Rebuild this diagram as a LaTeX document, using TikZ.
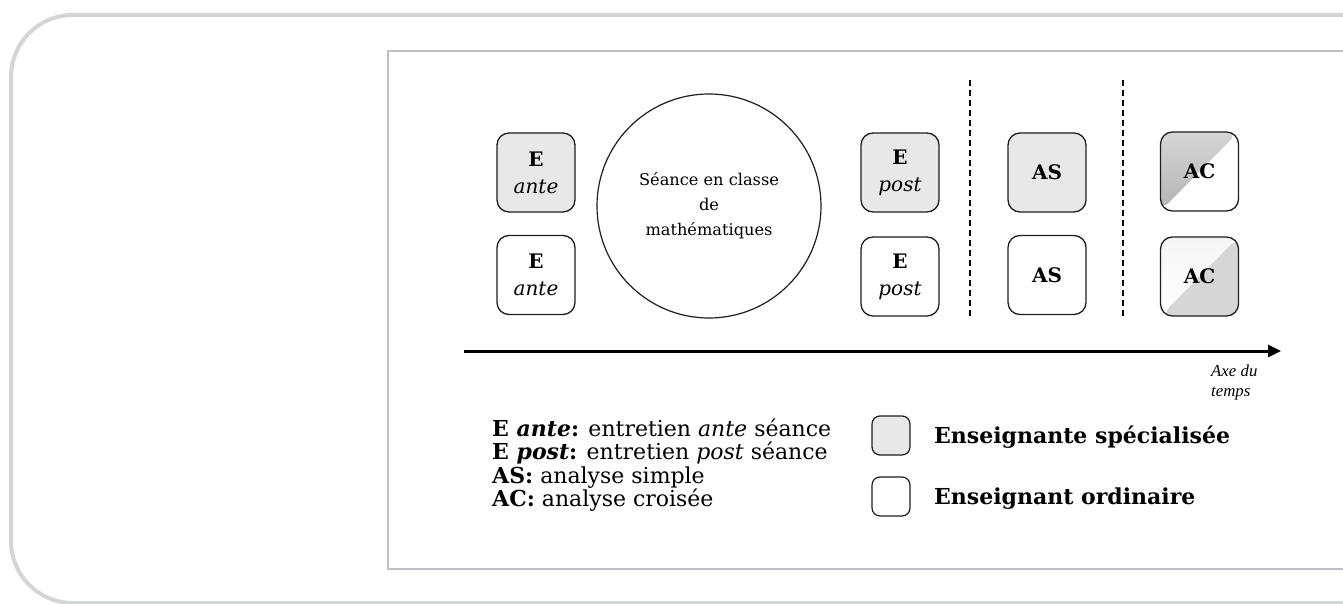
\documentclass[tikz,border=0pt]{standalone}
\usepackage{fontspec}
\setmainfont{DejaVu Serif}
\newfontfamily\axefont{Liberation Serif}
\usetikzlibrary{arrows.meta}
\definecolor{framegray}{HTML}{D4D5D7}
\definecolor{innergray}{HTML}{BFC0C4}
\definecolor{boxgray}{HTML}{E8E8E8}
\definecolor{edge}{HTML}{1E1E1E}
\tikzset{
  stagebox/.style={draw=edge, line width=1.3pt, rounded corners=12pt,
    minimum width=78pt, minimum height=79pt, inner sep=0pt, align=center,
    font=\fontsize{20}{27}\selectfont},
  spec/.style={stagebox, fill=boxgray},
  ordi/.style={stagebox, fill=white},
  sep/.style={dashed, dash pattern=on 6pt off 4pt, line width=1.1pt, black},
  legtext/.style={anchor=base west, inner sep=0pt, font=\fontsize{22}{24}\selectfont},
  legbig/.style={anchor=base west, inner sep=0pt, font=\fontsize{22}{24}\selectfont\bfseries},
  legbox/.style={draw=edge, line width=1.2pt, rounded corners=8pt,
    minimum width=38pt, minimum height=39pt, inner sep=0pt},
}
\begin{document}
\begin{tikzpicture}[x=1pt,y=-1pt]
\useasboundingbox (0,0) rectangle (1343,604);
\clip (0,0) rectangle (1343,604);
\fill[white] (0,0) rectangle (1343,604);
% outer frame
\draw[framegray, line width=4pt, rounded corners=62pt] (11,15) rectangle (1420,603);
% inner frame
\draw[innergray, line width=1.6pt] (1420,51) -- (388,51) -- (388,569) -- (1420,569);

% stage boxes
\node[spec] (eante1) at (536,172.5) {\textbf{E}\\\textit{ante}};
\node[ordi] (eante2) at (536,275) {\textbf{E}\\\textit{ante}};
\node[draw=edge, line width=1.2pt, circle, minimum size=224pt, inner sep=0pt,
  align=center, font=\fontsize{16.2}{25}\selectfont] (seance) at (709,206)
  {Séance en classe\\de\\mathématiques};
\node[spec] (epost1) at (900,172.5) {\textbf{E}\\\textit{post}};
\node[ordi] (epost2) at (900,276.5) {\textbf{E}\\\textit{post}};
\node[spec] (as1) at (1047,172.5) {\textbf{AS}};
\node[ordi] (as2) at (1047,275) {\textbf{AS}};
\node[stagebox, path picture={
    \shade[top color=black!16, bottom color=black!30]
      (path picture bounding box.south west) -- (path picture bounding box.north west)
      -- (path picture bounding box.north east) -- cycle;
  }] (ac1) at (1199.5,171.5) {\textbf{AC}};
\node[stagebox, path picture={
    \shade[top color=black!4, bottom color=white]
      (path picture bounding box.south west) -- (path picture bounding box.north west)
      -- (path picture bounding box.north east) -- cycle;
    \fill[black!16]
      (path picture bounding box.south west) -- (path picture bounding box.north east)
      -- (path picture bounding box.south east) -- cycle;
  }] (ac2) at (1199.5,276.5) {\textbf{AC}};

% separators
\coordinate (s1t) at (970,80); \coordinate (s1b) at (970,316);
\coordinate (s2t) at (1123,80); \coordinate (s2b) at (1123,316);
\draw[sep] (s1t) -- (s1b);
\draw[sep] (s2t) -- (s2b);

% time axis
\coordinate (axs) at (464,351); \coordinate (axe) at (1281,351);
\draw[line width=3pt, -{Triangle[length=13pt,width=12pt]}] (axs) -- (axe);
\node[anchor=west, inner sep=0pt, align=left, font=\axefont\itshape\fontsize{16.8}{20}\selectfont]
  (axelbl) at (1211,382) {Axe du\\temps};

% legend (abbreviations)
\node[legtext] (l1) at (492,436) {\textbf{E \textit{ante}:} entretien \textit{ante} séance};
\node[legtext] (l2) at (492,459.5) {\textbf{E \textit{post}:} entretien \textit{post} séance};
\node[legtext] (l3) at (492,483) {\textbf{AS:} analyse simple};
\node[legtext] (l4) at (492,506.5) {\textbf{AC:} analyse croisée};

% legend (teachers)
\node[legbox, fill=boxgray] (lg1) at (891,435.5) {};
\node[legbox, fill=white] (lg2) at (891,496.5) {};
\node[legbig] (lt1) at (934,443) {Enseignante spécialisée};
\node[legbig] (lt2) at (934,504) {Enseignant ordinaire};
\end{tikzpicture}
\end{document}
